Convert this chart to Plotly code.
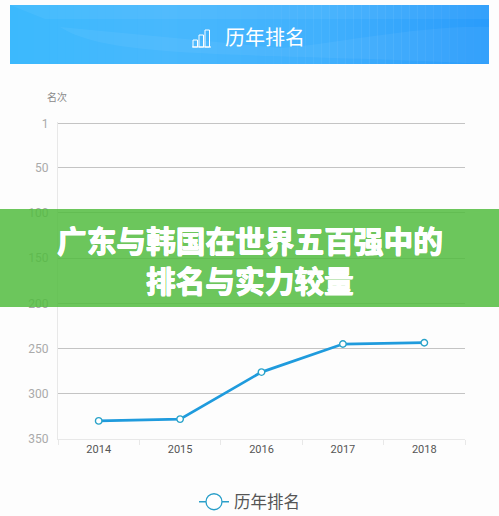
import plotly.graph_objects as go

# 数据
years = ["2014", "2015", "2016", "2017", "2018"]
ranks = [330, 328, 276, 245, 243.5]
rank_ticks = [1, 50, 100, 150, 200, 250, 300, 350]
banner_stops = [(60, 185, 253), (72, 184, 253), (64, 176, 253), (42, 156, 251)]

W, H = 499, 516


# 像素坐标转 paper 坐标
def px(x):
    return x / W


def py(y):
    return 1 - y / H


def rect(x0, y0, x1, y1, color, opacity=1):
    return dict(type="rect", xref="paper", yref="paper", x0=px(x0), x1=px(x1), y0=py(y0), y1=py(y1),
                fillcolor=color, opacity=opacity, line_width=0, layer="above")


def note(x, y, text, size, color, bold=False, **font):
    return dict(xref="paper", yref="paper", x=px(x), y=py(y), text=f"<b>{text}</b>" if bold else text,
                showarrow=False, xanchor="center", yanchor="middle",
                font=dict(family="Noto Sans CJK SC", size=size, color=color, **font))


def wave(points):
    # points: 起点 + 若干 (c1, c2, end) 三次贝塞尔段
    d = f"M{px(points[0][0])},{py(points[0][1])}"
    for a, b, c in points[1:]:
        d += f" C{px(a[0])},{py(a[1])} {px(b[0])},{py(b[1])} {px(c[0])},{py(c[1])}"
    return dict(type="path", xref="paper", yref="paper", path=d + " Z", fillcolor="white", opacity=0.05,
                line_width=0, layer="above")


fig = go.Figure()
fig.add_trace(go.Scatter(
    x=years, y=ranks, mode="lines+markers", showlegend=False,
    line=dict(color="#1f9bdd", width=2.8),
    marker=dict(size=6.5, color="white", line=dict(color="#2aa3c9", width=1.4)),
))
# 只用于图例
fig.add_trace(go.Scatter(
    x=[None], y=[None], mode="lines+markers", name="历年排名",
    line=dict(color="#2a9fc9", width=1.3),
    marker=dict(size=16, color="white", line=dict(color="#2a9fc9", width=1.3)),
))

# 顶部蓝色横幅（渐变用窄条拼）
shapes = []
n = 60
step = (489 - 10) / n
for i in range(n):
    t = i / (n - 1) * (len(banner_stops) - 1)
    k = min(int(t), len(banner_stops) - 2)
    f = t - k
    c = [round(banner_stops[k][j] * (1 - f) + banner_stops[k + 1][j] * f) for j in range(3)]
    shapes.append(rect(10 + i * step, 5, min(10 + (i + 1) * step + 0.5, 489), 64, f"rgb({c[0]},{c[1]},{c[2]})"))

# 横幅波浪
shapes.append(wave([(10, 5), ((200, 5), (350, 5), (489, 5)), ((489, 10), (489, 15), (489, 19)),
                    ((300, 19), (150, 19), (45, 19))]))
shapes.append(wave([(60, 27), ((110, 60), (250, 52), (489, 64)), ((489, 50), (489, 40), (489, 27)),
                    ((420, 25), (330, 45), (280, 48))]))

# 横幅小图标
shapes.append(rect(192, 46.5, 211, 47.5, "white"))
for x0, y0 in [(193, 40), (199, 35), (205, 30)]:
    shapes.append(dict(type="rect", xref="paper", yref="paper", x0=px(x0), x1=px(x0 + 4.5), y0=py(y0), y1=py(47),
                       line=dict(color="white", width=1), fillcolor="rgba(0,0,0,0)", layer="above"))

# 绿色标题带
shapes.append(rect(0, 209, 499, 307, "#52bc3f", 0.85))

heavy = "0.5px 0 0 white,-0.5px 0 0 white,0 0.5px 0 white,0 -0.5px 0 white"

fig.update_layout(
    width=W, height=H,
    margin=dict(l=0, r=0, t=0, b=0, autoexpand=False),
    paper_bgcolor="#fdfdfd", plot_bgcolor="#fdfdfd",
    font=dict(family="Noto Sans CJK SC"),
    shapes=shapes,
    annotations=[
        note(265, 36.5, "历年排名", 20, "white"),
        note(57, 96, "名次", 10, "#8a8a8a"),
        note(250, 240, "广东与韩国在世界五百强中的", 29.7, "white", True, shadow=heavy),
        note(250, 279, "排名与实力较量", 29.7, "white", True, shadow=heavy),
    ],
    legend=dict(
        orientation="h", x=0.5, xanchor="center", y=py(502), yanchor="middle",
        font=dict(size=16.5, color="#555555"), bgcolor="rgba(0,0,0,0)",
    ),
    xaxis=dict(
        domain=[px(58), px(465)], type="category", range=[-0.5, 4.5], tickson="boundaries", ticks="outside",
        ticklen=5, tickcolor="#e8e8e8", showline=True, linecolor="#e8e8e8", showgrid=False,
        tickfont=dict(family="Roboto", size=11, color="#555555"),
    ),
    yaxis=dict(
        domain=[py(439), py(121.6)], range=[350, -1], tickvals=rank_ticks, showline=True, linecolor="#e8e8e8",
        showgrid=True, gridcolor="#c4c4c4", gridwidth=1.2, zeroline=False, ticks="", ticklabelstandoff=6,
        tickfont=dict(family="Roboto", size=12, color="#aaaaaa"),
    ),
)

# 去掉页面默认边距和工具栏
fig.write_html("out.html", config={"displayModeBar": False},
               post_script="document.body.style.margin='0';document.documentElement.style.overflow='hidden';")
